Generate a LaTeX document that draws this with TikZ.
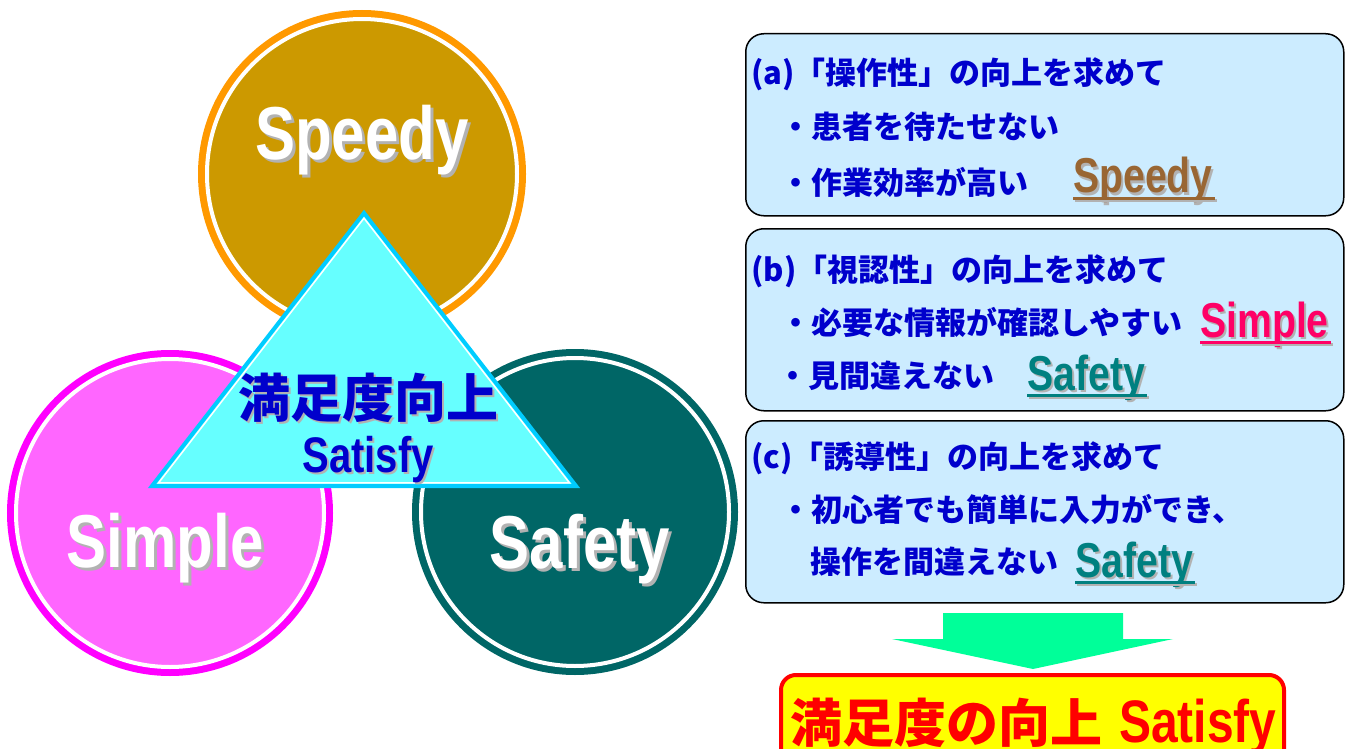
\documentclass[tikz,border=0pt]{standalone}
\usepackage{fontspec}
\setmainfont{Liberation Sans}
\newfontfamily\jp{Noto Sans CJK JP}
\newfontfamily\cond{Liberation Sans}[FakeStretch=0.8]
\definecolor{ochre}{HTML}{CC9900}
\definecolor{ringorange}{HTML}{FF9900}
\definecolor{pinkfill}{HTML}{FF66FF}
\definecolor{ringmagenta}{HTML}{FF00FF}
\definecolor{tealfill}{HTML}{006666}
\definecolor{tricyan}{HTML}{66FFFF}
\definecolor{triborder}{HTML}{00CCFF}
\definecolor{textblue}{HTML}{0000CC}
\definecolor{boxblue}{HTML}{CCECFF}
\definecolor{wordbrown}{HTML}{996633}
\definecolor{wordred}{HTML}{FF0066}
\definecolor{wordteal}{HTML}{008080}
\definecolor{arrowgreen}{HTML}{00FF99}
\definecolor{shadowgray}{HTML}{B2B2B2}
\definecolor{resultred}{HTML}{FF0000}
\definecolor{resultyellow}{HTML}{FFFF00}
\newcommand\shd[3]{\leavevmode\rlap{\hspace{#3}\raisebox{-#3}{\color{shadowgray}#2}}{\color{#1}#2}}
\begin{document}
\begin{tikzpicture}[x=1pt,y=-1pt,
  ring/.style 2 args={circle, inner sep=0, outer sep=0, fill=#2, draw=white, line width=4,
    preaction={draw=#1, line width=18}},
  biglabel/.style={anchor=base, inner sep=0, font=\cond\bfseries\fontsize{75}{75}\selectfont},
  infobox/.style={draw=black, line width=1.5, fill=boxblue, rounded corners=18,
    anchor=north west, inner sep=0, minimum width=598, minimum height=182},
  jline/.style={anchor=base west, inner sep=0, text=textblue, font=\jp\bfseries\fontsize{31}{31}\selectfont},
  word/.style={anchor=base west, inner sep=0, font=\cond\bfseries\fontsize{49}{49}\selectfont},
]
\useasboundingbox (0,0) rectangle (1347,749);
% circles
\node[ring={ringorange}{ochre}, minimum size=310] (speedy) at (362,174) {};
\node[ring={ringmagenta}{pinkfill}, minimum size=308] (simple) at (170,513) {};
\node[ring={tealfill}{tealfill}, minimum size=308] (safety) at (575,512) {};
\node[biglabel] (speedylbl) at (362,160) {\shd{white}{Speedy}{3pt}};
\node[biglabel] (simplelbl) at (165,567) {\shd{white}{Simple}{3pt}};
\node[biglabel] (safetylbl) at (580,568) {\shd{white}{Safety}{3pt}};
% triangle
\coordinate (tA) at (364,213);
\coordinate (tB) at (152,486);
\coordinate (tC) at (576,486);
\coordinate (iA) at (364,218.2);
\coordinate (iB) at (158.6,482.8);
\coordinate (iC) at (569.4,482.8);
\draw[fill=tricyan, draw=triborder, line width=4, line join=miter] (tA) -- (tB) -- (tC) -- cycle;
\draw[white, line width=1.5] (iA) -- (iB) -- (iC) -- cycle;
\node[anchor=base, inner sep=0, font=\jp\bfseries\fontsize{52}{52}\selectfont] (tri1) at (368,417) {\shd{textblue}{満足度向上}{2pt}};
\node[anchor=base, inner sep=0, font=\cond\bfseries\fontsize{50}{50}\selectfont] (tri2) at (368,472) {\shd{textblue}{Satisfy}{2pt}};
% boxes
\node[infobox] (boxa) at (745,33) {};
\node[infobox] (boxb) at (745,228) {};
\node[infobox] (boxc) at (745,420) {};
\node[jline] (a1) at (751,85) {(a)「操作性」の向上を求めて};
\node[jline] (a2) at (780,139) {・患者を待たせない};
\node[jline] (a3) at (780,194) {・作業効率が高い};
\node[word] (aw) at (1073,193) {\shd{wordbrown}{Speedy}{2pt}};
\node[jline] (b1) at (751,281) {(b)「視認性」の向上を求めて};
\node[jline] (b2) at (780,334) {・必要な情報が確認しやすい};
\node[word] (bw1) at (1200,337) {\shd{wordred}{Simple}{2pt}};
\node[jline] (b3) at (777,387) {・見間違えない};
\node[word] (bw2) at (1027,390) {\shd{wordteal}{Safety}{2pt}};
\node[jline] (c1) at (751,468) {(c)「誘導性」の向上を求めて};
\node[jline] (c2) at (780,521) {・初心者でも簡単に入力ができ、};
\node[jline] (c3) at (810,573) {操作を間違えない};
\node[word] (cw) at (1075,577) {\shd{wordteal}{Safety}{2pt}};
\foreach \n/\c in {aw/wordbrown, bw1/wordred, bw2/wordteal, cw/wordteal}{
  \draw[shadowgray, line width=3] ([xshift=2pt,yshift=-7pt]\n.base west) -- ([xshift=4pt,yshift=-7pt]\n.base east);
  \draw[\c, line width=3] ([yshift=-5pt]\n.base west) -- ([xshift=2pt,yshift=-5pt]\n.base east);
}
% arrow
\coordinate (ar1) at (943,613);
\coordinate (ar2) at (1123,613);
\coordinate (ar3) at (1123,639);
\coordinate (ar4) at (1173,639);
\coordinate (artip) at (1033,669);
\coordinate (ar5) at (892,639);
\coordinate (ar6) at (943,639);
\fill[arrowgreen] (ar1) -- (ar2) -- (ar3) -- (ar4) -- (artip) -- (ar5) -- (ar6) -- cycle;
% result box
\node[draw=resultred, line width=4, fill=resultyellow, rounded corners=15, anchor=north west,
  minimum width=503, minimum height=110, inner sep=0] (result) at (779,673) {};
\node[anchor=base west, inner sep=0, text=resultred] (resulttext) at (790,742)
  {{\jp\bfseries\fontsize{52}{52}\selectfont 満足度の向上}\hspace{17pt}{\cond\bfseries\fontsize{60}{60}\selectfont Satisfy}};
\end{tikzpicture}
\end{document}
